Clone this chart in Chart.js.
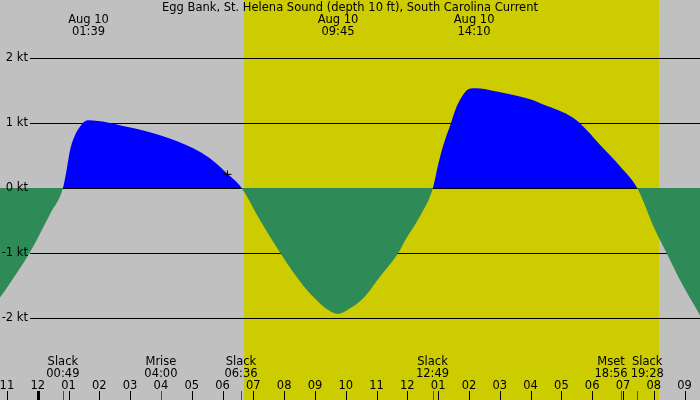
<!DOCTYPE html>
<html>
<head>
<meta charset="utf-8">
<script src="https://cdn.jsdelivr.net/npm/chart.js@4/dist/chart.umd.min.js"></script>
<style>
  body { margin: 0; background: #c0c0c0; }
  canvas { display: block; }
</style>
</head>
<body>
<canvas id="chart" width="700" height="400"></canvas>
<script>
// hours after Aug 10 00:00, current in knots (+ flood, - ebb)
const hours = [-1.224, -0.83, -0.27, 0.41, 0.82, 0.94, 1.05, 1.21, 1.37, 1.52, 1.65, 2.89, 3.97, 5.05, 5.59, 6.14, 6.62,
  7.18, 7.88, 8.61, 9.10, 9.43, 9.75, 10.14, 10.57, 11.11, 11.70, 11.93, 12.40, 12.83,
  13.01, 13.15, 13.41, 13.60, 13.77, 13.93, 14.20, 14.90, 15.99, 16.31, 16.96, 17.30, 17.61, 18.26, 18.91, 19.46,
  20.04, 20.42, 20.85, 21.5];
const currentKt = [-1.68, -1.41, -1.0, -0.39, 0, 0.28, 0.58, 0.81, 0.94, 1.02, 1.04, 0.94, 0.81, 0.61, 0.455, 0.225, 0,
  -0.465, -1.0, -1.49, -1.74, -1.87, -1.93, -1.845, -1.69, -1.36, -1.0, -0.80, -0.44, 0,
  0.38, 0.63, 0.99, 1.25, 1.40, 1.50, 1.53, 1.48, 1.36, 1.30, 1.18, 1.10, 0.99, 0.66, 0.33, 0,
  -0.64, -1.0, -1.41, -1.95];

const ktTicks = [2, 1, 0, -1, -2];

const hourTicks = [-1, 0, 1, 2, 3, 4, 5, 6, 7, 8, 9, 10, 11, 12, 13, 14, 15, 16, 17, 18, 19, 20, 21];
const hourLabels = ["11", "12", "01", "02", "03", "04", "05", "06", "07", "08", "09", "10",
  "11", "12", "01", "02", "03", "04", "05", "06", "07", "08", "09"];

const peakHours = [1.65, 9.75, 14.167];
const peakDates = ["Aug 10", "Aug 10", "Aug 10"];
const peakClock = ["01:39", "09:45", "14:10"];

const eventHours = [0.817, 4.0, 6.6, 12.817, 18.933, 19.467];
const eventNames = ["Slack", "Mrise", "Slack", "Slack", "Mset", "Slack"];
const eventClock = ["00:49", "04:00", "06:36", "12:49", "18:56", "19:28"];

const sunrise = 6.70;
const sunset = 20.17;
const nowHour = 6.16;
const nowKt = 0.21;

const title = "Egg Bank, St. Helena Sound (depth 10 ft), South Carolina Current";
const FONT = '11.5px "DejaVu Sans", sans-serif';

// pushes neighbouring labels apart when they would overlap
const spreadLabels = (ctx, xs, lines) => {
  const items = xs.map((x, i) => {
    const w = Math.max(...lines.map((l) => ctx.measureText(l[i]).width));
    return { x: x, w: w };
  });
  for (let i = 1; i < items.length; i++) {
    const a = items[i - 1];
    const b = items[i];
    const overlap = a.x + a.w / 2 + 3 - (b.x - b.w / 2);
    if (overlap > 0) {
      a.x -= overlap / 2;
      b.x += overlap / 2;
    }
  }
  return items.map((it) => it.x);
};

const tidePlugin = {
  id: "tide",
  beforeDraw(chart) {
    const { ctx, scales } = chart;
    ctx.save();
    ctx.fillStyle = "#c0c0c0";
    ctx.fillRect(0, 0, chart.width, chart.height);
    const x1 = scales.x.getPixelForValue(sunrise);
    const x2 = scales.x.getPixelForValue(sunset);
    ctx.fillStyle = "#cccc00";
    ctx.fillRect(x1, 0, x2 - x1, chart.height);
    ctx.restore();
  },
  beforeDatasetsDraw(chart) {
    const { ctx, scales } = chart;
    ctx.save();
    ctx.strokeStyle = "#000";
    ctx.lineWidth = 1;
    ktTicks.forEach((v) => {
      const y = Math.round(scales.y.getPixelForValue(v)) + 0.5;
      ctx.beginPath();
      ctx.moveTo(30, y);
      ctx.lineTo(chart.width, y);
      ctx.stroke();
    });
    ctx.restore();
  },
  afterDatasetsDraw(chart) {
    const { ctx, scales } = chart;
    ctx.save();
    ctx.font = FONT;
    ctx.fillStyle = "#000";
    ctx.textBaseline = "middle";

    // y labels
    ctx.textAlign = "right";
    ktTicks.forEach((v) => {
      ctx.fillText(v + " kt", 28, scales.y.getPixelForValue(v));
    });

    ctx.textAlign = "center";
    ctx.fillText(title, 350, 8);

    // max current labels
    const px = spreadLabels(ctx, peakHours.map((h) => scales.x.getPixelForValue(h)), [peakDates, peakClock]);
    px.forEach((x, i) => {
      ctx.fillText(peakDates[i], x, 20);
      ctx.fillText(peakClock[i], x, 32);
    });

    // slack / moon labels
    const ex = spreadLabels(ctx, eventHours.map((h) => scales.x.getPixelForValue(h)), [eventNames, eventClock]);
    ex.forEach((x, i) => {
      ctx.fillText(eventNames[i], x, 362);
      ctx.fillText(eventClock[i], x, 374);
    });

    // hour labels and ticks
    hourTicks.forEach((h, i) => {
      const x = scales.x.getPixelForValue(h);
      ctx.fillText(hourLabels[i], x, 386);
      if (h === 0) {
        ctx.fillRect(Math.round(x) - 1, 391, 3, 9);
      } else {
        ctx.fillRect(Math.round(x), 391, 1, 9);
      }
    });
    ctx.fillStyle = "#ff0000";
    eventHours.forEach((h) => {
      const x = scales.x.getPixelForValue(h);
      ctx.fillRect(Math.round(x), 391, 1, 9);
    });
    ctx.restore();
  },
};

new Chart(document.getElementById("chart"), {
  type: "line",
  data: {
    datasets: [
      {
        type: "scatter",
        data: [{ x: nowHour, y: nowKt }],
        pointStyle: "cross",
        pointRadius: 4,
        borderColor: "#000",
        borderWidth: 1,
      },
      {
        data: hours.map((h, i) => ({ x: h, y: currentKt[i] })),
        borderWidth: 0,
        borderColor: "rgba(0,0,0,0)",
        pointRadius: 0,
        cubicInterpolationMode: "monotone",
        fill: { target: "origin", above: "#0000ff", below: "#2e8b57" },
      },
    ],
  },
  options: {
    responsive: false,
    devicePixelRatio: 1,
    animation: false,
    layout: { padding: 0, autoPadding: false },
    scales: {
      x: { type: "linear", min: -1.224, max: 21.5, display: false },
      y: { min: -3.25, max: 2.883, display: false },
    },
    plugins: {
      legend: { display: false },
      tooltip: { enabled: false },
    },
  },
  plugins: [tidePlugin],
});
</script>
</body>
</html>
